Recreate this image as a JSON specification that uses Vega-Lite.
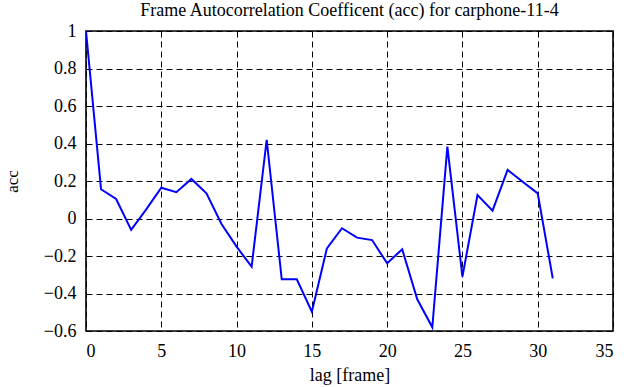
{
  "$schema": "https://vega.github.io/schema/vega-lite/v6.json",
  "width": 527,
  "height": 300,
  "autosize": "none",
  "padding": {"left": 86, "top": 31, "right": 28, "bottom": 56},
  "background": "white",
  "title": {
    "text": "Frame Autocorrelation Coefficent (acc) for carphone-11-4",
    "font": "Liberation Serif",
    "fontSize": 18,
    "fontWeight": "normal",
    "color": "black",
    "offset": 2
  },
  "config": {
    "font": "Liberation Serif",
    "view": {"stroke": "black", "strokeWidth": 1.6},
    "style": {
      "guide-label": {"font": "Liberation Serif", "fontSize": 18, "fill": "black"},
      "guide-title": {"font": "Liberation Serif", "fontSize": 18, "fill": "black"}
    },
    "axis": {
      "labelFont": "Liberation Serif",
      "labelFontSize": 18,
      "labelColor": "black",
      "titleFont": "Liberation Serif",
      "titleFontSize": 18,
      "titleFontWeight": "normal",
      "titleColor": "black",
      "domain": false,
      "grid": true,
      "gridColor": "black",
      "gridDash": [6, 4],
      "gridWidth": 1,
      "gridOpacity": 1,
      "tickColor": "black",
      "tickSize": 0
    }
  },
  "data": {
    "values": [
      {"lag": 0, "acc": 1.0},
      {"lag": 1, "acc": 0.156},
      {"lag": 2, "acc": 0.104},
      {"lag": 3, "acc": -0.061},
      {"lag": 4, "acc": 0.049},
      {"lag": 5, "acc": 0.164},
      {"lag": 6, "acc": 0.14},
      {"lag": 7, "acc": 0.211},
      {"lag": 8, "acc": 0.134},
      {"lag": 9, "acc": -0.029},
      {"lag": 10, "acc": -0.15},
      {"lag": 11, "acc": -0.257},
      {"lag": 12, "acc": 0.42},
      {"lag": 13, "acc": -0.324},
      {"lag": 14, "acc": -0.324},
      {"lag": 15, "acc": -0.497},
      {"lag": 16, "acc": -0.159},
      {"lag": 17, "acc": -0.052},
      {"lag": 18, "acc": -0.102},
      {"lag": 19, "acc": -0.115},
      {"lag": 20, "acc": -0.239},
      {"lag": 21, "acc": -0.164},
      {"lag": 22, "acc": -0.431},
      {"lag": 23, "acc": -0.58},
      {"lag": 24, "acc": 0.383},
      {"lag": 25, "acc": -0.31},
      {"lag": 26, "acc": 0.125},
      {"lag": 27, "acc": 0.042},
      {"lag": 28, "acc": 0.259},
      {"lag": 29, "acc": 0.196},
      {"lag": 30, "acc": 0.134},
      {"lag": 31, "acc": -0.319}
    ]
  },
  "mark": {"type": "line", "color": "#0000ff", "strokeWidth": 2, "clip": true},
  "encoding": {
    "x": {
      "field": "lag",
      "type": "quantitative",
      "scale": {"domain": [0, 35], "nice": false, "zero": false},
      "axis": {"values": [0, 5, 10, 15, 20, 25, 30, 35], "format": "~g", "labelFont": "Liberation Serif", "title": "lag [frame]", "labelPadding": 11, "titlePadding": 6}
    },
    "y": {
      "field": "acc",
      "type": "quantitative",
      "scale": {"domain": [-0.6, 1], "nice": false, "zero": false},
      "axis": {"values": [-0.6, -0.4, -0.2, 0, 0.2, 0.4, 0.6, 0.8, 1], "format": "~g", "labelFont": "Liberation Serif", "title": "acc", "titleFontSize": 17, "labelPadding": 10, "titlePadding": 22}
    }
  }
}
